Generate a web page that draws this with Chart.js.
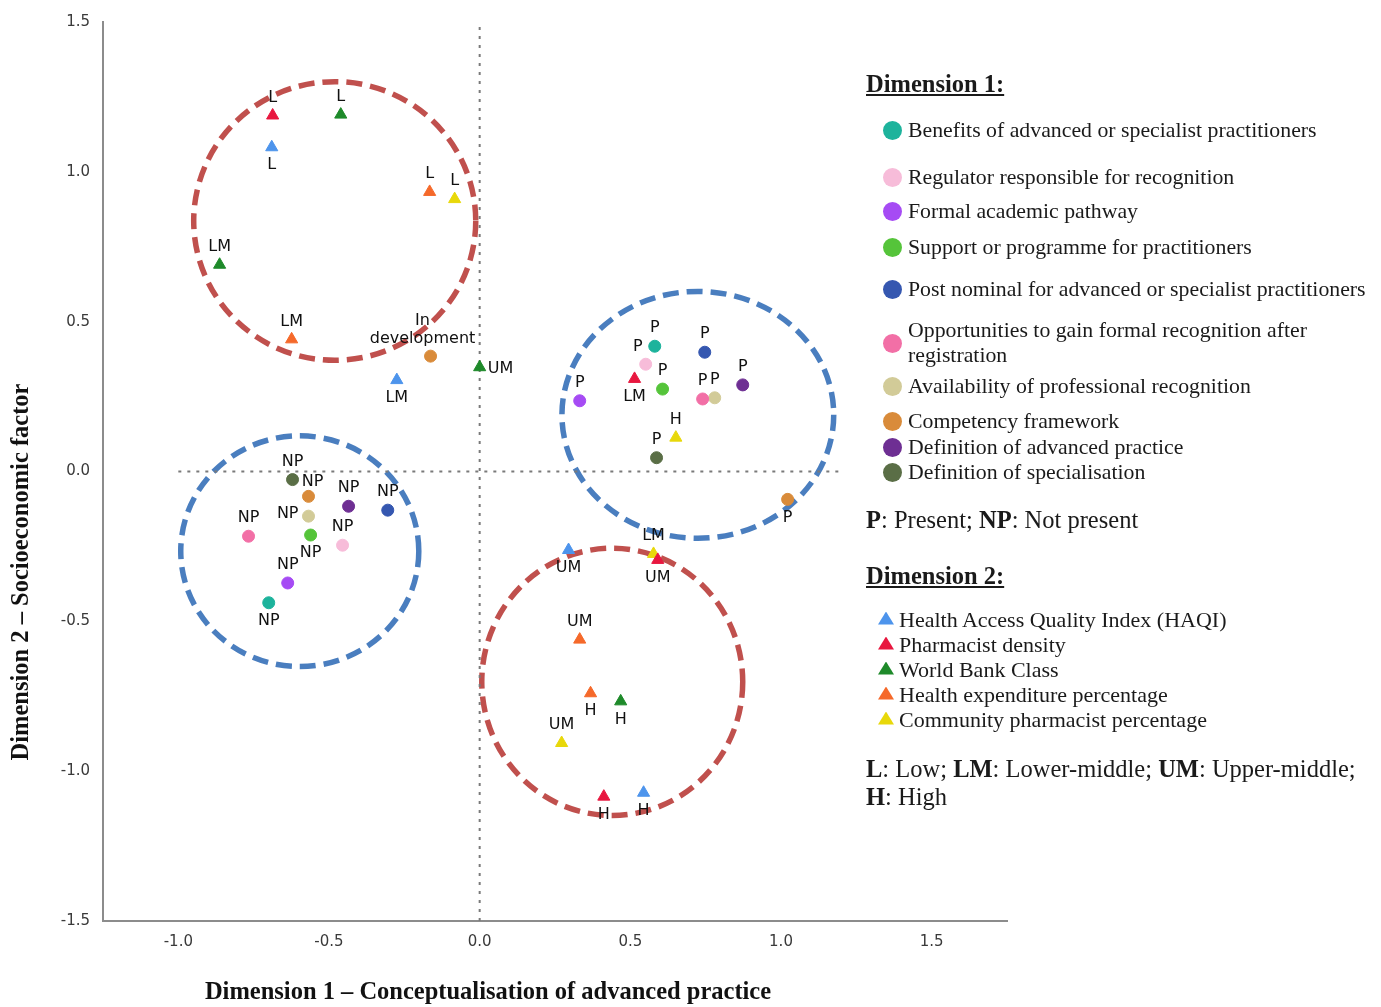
<!DOCTYPE html>
<html lang="en">
<head>
<meta charset="utf-8"/>
<script src="https://cdn.jsdelivr.net/npm/chart.js@4.4.1/dist/chart.umd.min.js"></script>
<style>
    body { margin: 0; background: #fff; }
    #wrap { position: relative; width: 1381px; height: 1007px; }
    #chart { position: absolute; left: 0; top: 0; }
    #legend { position: absolute; left: 0; top: 0; font-family: "Liberation Serif", "Times New Roman", serif; color: #1a1a1a; }
    .hdr { position: absolute; left: 866px; font-weight: bold; font-size: 24.5px; line-height: 28px; text-decoration: underline; white-space: nowrap; }
    .note { position: absolute; left: 866px; font-size: 24.5px; line-height: 28px; white-space: nowrap; }
    .row { position: absolute; display: flex; align-items: center; }
    .d1 { left: 883px; font-size: 21.8px; line-height: 25px; }
    .d2 { left: 878px; font-size: 22px; line-height: 24px; }
    .d2 .txt { white-space: nowrap; }
    .dot { flex: none; width: 19px; height: 19px; border-radius: 50%; margin-right: 6px; }
    .tri { flex: none; width: 16px; height: 13px; margin-right: 5px; margin-top: -4px; clip-path: polygon(50% 0, 100% 100%, 0 100%); }
    .d1 .txt { width: 472px; }
</style>
</head>
<body>
<div id="wrap">
    <canvas id="chart" width="1381" height="1007"></canvas>
    <div id="legend"></div>
</div>
<script>
// axis ticks
const xTicks = [-1.0, -0.5, 0.0, 0.5, 1.0, 1.5];
const yTicks = [-1.5, -1.0, -0.5, 0.0, 0.5, 1.0, 1.5];

// Dimension 1: circles (P / NP)
const d1Names = [
    'Benefits of advanced or specialist practitioners',
    'Regulator responsible for recognition',
    'Formal academic pathway',
    'Support or programme for practitioners',
    'Post nominal for advanced or specialist practitioners',
    'Opportunities to gain formal recognition after registration',
    'Availability of professional recognition',
    'Competency framework',
    'Definition of advanced practice',
    'Definition of specialisation'
];
const d1Colors = ['#1db39c', '#f7bcd9', '#a64bf4', '#55c43a', '#3557b0',
                  '#f26fa6', '#d2cb98', '#d98b3a', '#6e2f93', '#5a6e46'];
const d1Labels = [['P', 'NP'], ['P', 'NP'], ['P', 'NP'], ['P', 'NP'], ['P', 'NP'],
                  ['P', 'NP'], ['P', 'NP'], ['P', 'NP', 'In\ndevelopment'], ['P', 'NP'], ['P', 'NP']];
const d1X = [[0.581, -0.700], [0.551, -0.455], [0.332, -0.637], [0.607, -0.561], [0.747, -0.305],
             [0.740, -0.767], [0.780, -0.568], [1.022, -0.568, -0.163], [0.873, -0.435], [0.587, -0.621]];
const d1Y = [[0.418, -0.438], [0.358, -0.246], [0.236, -0.372], [0.275, -0.212], [0.398, -0.129],
             [0.242, -0.216], [0.246, -0.149], [-0.093, -0.083, 0.385], [0.289, -0.116], [0.046, -0.027]];
const d1Place = [['n', 's'], ['nw', 'n'], ['n', 'n'], ['n', 's'], ['n', 'n'],
                 ['n', 'n'], ['n', 'w'], ['s', 'ne', 'nw'], ['n', 'n'], ['n', 'n']];

// Dimension 2: triangles (L / LM / UM / H)
const d2Names = [
    'Health Access Quality Index (HAQI)',
    'Pharmacist density',
    'World Bank Class',
    'Health expenditure percentage',
    'Community pharmacist percentage'
];
const d2Colors = ['#4d94ec', '#e8173f', '#1e8a2a', '#f5692a', '#e8d80a'];
const d2Labels = ['L', 'LM', 'UM', 'H'];
const d2X = [[-0.690, -0.275, 0.295, 0.544], [-0.687, 0.514, 0.591, 0.412], [-0.461, -0.863, 0.000, 0.468],
             [-0.166, -0.624, 0.332, 0.368], [-0.083, 0.577, 0.272, 0.651]];
const d2Y = [[1.082, 0.305, -0.262, -1.072], [1.188, 0.309, -0.295, -1.085], [1.191, 0.690, 0.348, -0.767],
             [0.933, 0.441, -0.561, -0.740], [0.909, -0.275, -0.906, 0.113]];
const d2Place = [['s', 's', 's', 's'], ['n', 's', 's', 's'], ['n', 'n', 'e', 's'],
                 ['n', 'n', 'n', 's'], ['n', 'n', 'n', 'n']];

// dashed group rings (centre, radii in data units)
const ringCX = [-0.481, 0.724, -0.597, 0.440];
const ringCY = [0.836, 0.189, -0.266, -0.702];
const ringRX = [0.468, 0.451, 0.395, 0.433];
const ringRY = [0.465, 0.412, 0.385, 0.446];
const ringColors = ['#c0504d', '#4a7ebf', '#4a7ebf', '#c0504d'];

// dotted reference lines through origin
const refVertY = [-1.5, 1.5];
const refHorizX = [-1.0, 1.2];

// legend layout
const d1RowTop = [118, 165, 199, 235, 277, 318, 374, 409, 435, 460];
const d2RowTop = [608, 633, 658, 683, 708];

const placeOffset = {
    n: [0, -18, 'center'],
    s: [0, 18, 'center'],
    e: [8, 2, 'left'],
    w: [-10, -2, 'right'],
    ne: [4, -15, 'center'],
    nw: [-8, -17, 'center']
};

const datasets = [];
d1Names.forEach((name, i) => {
    datasets.push({
        label: name,
        data: d1X[i].map((x, j) => ({x: x, y: d1Y[i][j]})),
        backgroundColor: d1Colors[i],
        borderColor: d1Colors[i],
        borderWidth: 1,
        pointStyle: 'circle',
        pointRadius: 6,
        pointLabels: d1Labels[i],
        labelPlace: d1Place[i]
    });
});
d2Names.forEach((name, i) => {
    datasets.push({
        label: name,
        data: d2X[i].map((x, j) => ({x: x, y: d2Y[i][j]})),
        backgroundColor: d2Colors[i],
        borderColor: d2Colors[i],
        borderWidth: 1,
        pointStyle: 'triangle',
        pointRadius: 7,
        pointLabels: d2Labels,
        labelPlace: d2Place[i]
    });
});
datasets.push({
    label: 'ref-v',
    data: refVertY.map(y => ({x: 0, y: y})),
    showLine: true, pointRadius: 0,
    borderColor: '#7a7a7a', borderWidth: 2, borderDash: [3, 6]
});
datasets.push({
    label: 'ref-h',
    data: refHorizX.map(x => ({x: x, y: 0})),
    showLine: true, pointRadius: 0,
    borderColor: '#7a7a7a', borderWidth: 2, borderDash: [3, 6]
});

// dashed ellipses behind the points
const ringPlugin = {
    id: 'rings',
    beforeDatasetsDraw(chart) {
        const ctx = chart.ctx, xs = chart.scales.x, ys = chart.scales.y;
        ctx.save();
        ctx.lineWidth = 5.5;
        ctx.setLineDash([16, 8]);
        ringCX.forEach((cx, i) => {
            const px = xs.getPixelForValue(cx), py = ys.getPixelForValue(ringCY[i]);
            const rx = Math.abs(xs.getPixelForValue(cx + ringRX[i]) - px);
            const ry = Math.abs(ys.getPixelForValue(ringCY[i] + ringRY[i]) - py);
            ctx.strokeStyle = ringColors[i];
            ctx.beginPath();
            ctx.ellipse(px, py, rx, ry, 0, 0, Math.PI * 2);
            ctx.stroke();
        });
        ctx.restore();
    }
};

// small category labels next to each point
const pointLabelPlugin = {
    id: 'pointLabels',
    afterDatasetsDraw(chart) {
        const ctx = chart.ctx;
        ctx.save();
        ctx.font = '16px "DejaVu Sans"';
        ctx.fillStyle = '#111';
        ctx.textBaseline = 'middle';
        chart.data.datasets.forEach((ds, di) => {
            if (!ds.pointLabels) return;
            chart.getDatasetMeta(di).data.forEach((el, i) => {
                const off = placeOffset[ds.labelPlace[i]];
                const lines = ds.pointLabels[i].split('\n');
                ctx.textAlign = off[2];
                lines.forEach((line, k) => {
                    const dy = off[1] - (lines.length - 1 - k) * 18;
                    ctx.fillText(line, el.x + off[0], el.y + dy);
                });
            });
        });
        ctx.restore();
    }
};

// axis titles (offset from the axis centres as in the figure)
const axisTitlePlugin = {
    id: 'axisTitles',
    afterDraw(chart) {
        const ctx = chart.ctx;
        ctx.save();
        ctx.font = 'bold 24.5px "Liberation Serif"';
        ctx.fillStyle = '#111';
        ctx.textAlign = 'center';
        ctx.textBaseline = 'middle';
        ctx.fillText('Dimension 1 \u2013 Conceptualisation of advanced practice', 488, 993);
        ctx.translate(22, 572);
        ctx.rotate(-Math.PI / 2);
        ctx.fillText('Dimension 2 \u2013 Socioeconomic factor', 0, 0);
        ctx.restore();
    }
};

const tickFont = {family: 'DejaVu Sans', size: 15};

new Chart(document.getElementById('chart'), {
    type: 'scatter',
    data: {datasets: datasets},
    options: {
        responsive: false,
        animation: false,
        layout: {padding: {left: 0, top: 17, right: 374, bottom: 0}},
        plugins: {legend: {display: false}, tooltip: {enabled: false}},
        scales: {
            x: {
                type: 'linear', min: -1.25, max: 1.75,
                afterBuildTicks: s => { s.ticks = xTicks.map(v => ({value: v})); },
                afterFit: s => { s.height = 86; },
                grid: {display: false, drawTicks: false},
                border: {display: true, color: '#8c8c8c', width: 2},
                ticks: {padding: 12, font: tickFont, color: '#3a3a3a', callback: v => Number(v).toFixed(1)}
            },
            y: {
                type: 'linear', min: -1.5, max: 1.5,
                afterBuildTicks: s => { s.ticks = yTicks.map(v => ({value: v})); },
                afterFit: s => { s.width = 103; },
                grid: {display: false, drawTicks: false},
                border: {display: true, color: '#8c8c8c', width: 2},
                ticks: {padding: 13, font: tickFont, color: '#3a3a3a', callback: v => Number(v).toFixed(1)}
            }
        }
    },
    plugins: [ringPlugin, pointLabelPlugin, axisTitlePlugin]
});

// legend panel
const legend = document.getElementById('legend');
function addDiv(cls, top, html) {
    const el = document.createElement('div');
    el.className = cls;
    el.style.top = top + 'px';
    el.innerHTML = html;
    legend.appendChild(el);
}
addDiv('hdr', 70, 'Dimension 1:');
d1Names.forEach((name, i) => {
    addDiv('row d1', d1RowTop[i], '<span class="dot" style="background:' + d1Colors[i] + '"></span><span class="txt">' + name + '</span>');
});
addDiv('note', 506, '<b>P</b>: Present; <b>NP</b>: Not present');
addDiv('hdr', 562, 'Dimension 2:');
d2Names.forEach((name, i) => {
    addDiv('row d2', d2RowTop[i], '<span class="tri" style="background:' + d2Colors[i] + '"></span><span class="txt">' + name + '</span>');
});
addDiv('note', 755, '<b>L</b>: Low; <b>LM</b>: Lower-middle; <b>UM</b>: Upper-middle;<br><b>H</b>: High');
</script>
</body>
</html>
